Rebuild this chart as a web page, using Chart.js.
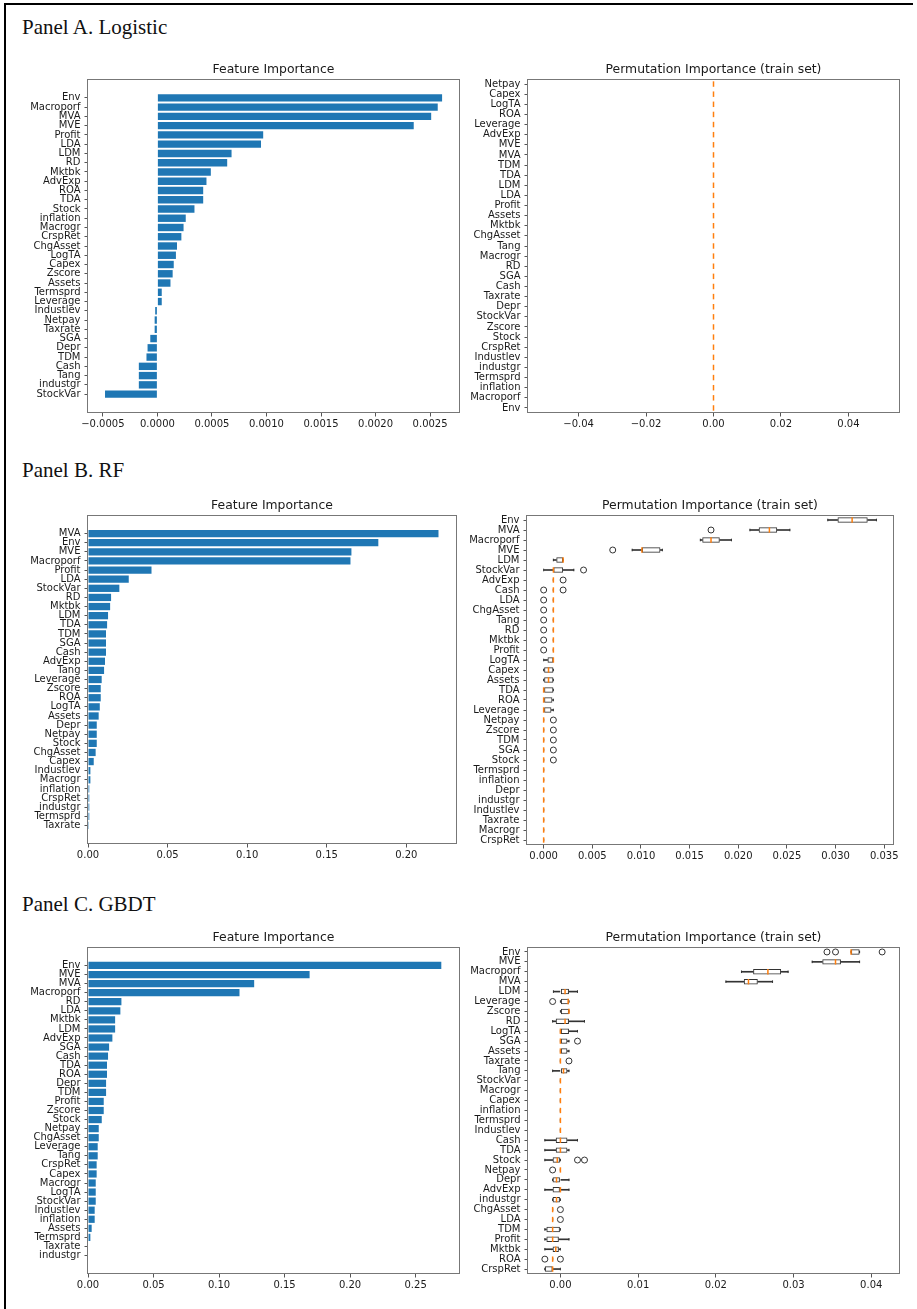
<!DOCTYPE html>
<html>
<head>
<meta charset="utf-8">
<script src="https://cdn.jsdelivr.net/npm/chart.js@4.4.1/dist/chart.umd.min.js"></script>
<style>
  html, body { margin: 0; padding: 0; background: #fff; }
  #page { position: relative; width: 917px; height: 1309px; overflow: hidden; }
  .rule { position: absolute; background: #000; }
  .caption { position: absolute; left: 22px; font-family: 'Liberation Serif', serif; font-size: 21px; line-height: 21px; color: #111; white-space: nowrap; }
  canvas { position: absolute; }
</style>
</head>
<body>
<div id="page">
  <div class="rule" style="left:4px;top:3px;width:909px;height:2px"></div>
  <div class="rule" style="left:4px;top:3px;width:2px;height:1306px"></div>
  <div class="caption" style="top:17px">Panel A. Logistic</div>
  <div class="caption" style="top:460px">Panel B. RF</div>
  <div class="caption" style="top:894px">Panel C. GBDT</div>
  <canvas id="aFi"></canvas>
  <canvas id="aPi"></canvas>
  <canvas id="bFi"></canvas>
  <canvas id="bPi"></canvas>
  <canvas id="cFi"></canvas>
  <canvas id="cPi"></canvas>
</div>
<script>
// --- Panel A. Logistic ---
const aFiLabels = ['Env','Macroporf','MVA','MVE','Profit','LDA','LDM','RD','Mktbk','AdvExp','ROA','TDA','Stock','inflation','Macrogr','CrspRet','ChgAsset','LogTA','Capex','Zscore','Assets','Termsprd','Leverage','Industlev','Netpay','Taxrate','SGA','Depr','TDM','Cash','Tang','industgr','StockVar'];
const aFiValues = [0.00261,0.00257,0.00251,0.00235,0.00097,0.00095,0.00068,0.00064,0.00049,0.00045,0.00042,0.00042,0.00034,0.00026,0.00024,0.00022,0.00018,0.00017,0.00015,0.00014,0.00012,0.00004,0.00004,-0.00002,-0.000025,-0.000025,-0.000065,-0.00009,-0.0001,-0.00017,-0.00017,-0.00017,-0.00048];
const aFiTicks = [-0.0005, 0, 0.0005, 0.001, 0.0015, 0.002, 0.0025];

const aPiLabels = ['Netpay','Capex','LogTA','ROA','Leverage','AdvExp','MVE','MVA','TDM','TDA','LDM','LDA','Profit','Assets','Mktbk','ChgAsset','Tang','Macrogr','RD','SGA','Cash','Taxrate','Depr','StockVar','Zscore','Stock','CrspRet','Industlev','industgr','Termsprd','inflation','Macroporf','Env'];
// every repeat gave 0, so quartiles, whiskers and median all sit at 0
const aPiValues = [0,0,0,0,0,0,0,0,0,0,0,0,0,0,0,0,0,0,0,0,0,0,0,0,0,0,0,0,0,0,0,0,0];
const aPiTicks = [-0.04, -0.02, 0, 0.02, 0.04];

// --- Panel B. RF ---
const bFiLabels = ['MVA','Env','MVE','Macroporf','Profit','LDA','StockVar','RD','Mktbk','LDM','TDA','TDM','SGA','Cash','AdvExp','Tang','Leverage','Zscore','ROA','LogTA','Assets','Depr','Netpay','Stock','ChgAsset','Capex','Industlev','Macrogr','inflation','CrspRet','industgr','Termsprd','Taxrate'];
const bFiValues = [0.2202,0.1824,0.1655,0.1649,0.0399,0.0256,0.0197,0.0145,0.0139,0.0126,0.0120,0.0113,0.0113,0.0113,0.0107,0.0101,0.0086,0.0080,0.0080,0.0074,0.0067,0.0055,0.0055,0.0055,0.0048,0.0036,0.0015,0.0015,0.0008,0.0008,0.0008,0.0008,0.0001];
const bFiTicks = [0, 0.05, 0.10, 0.15, 0.20];

const bPiLabels = ['Env','MVA','Macroporf','MVE','LDM','StockVar','AdvExp','Cash','LDA','ChgAsset','Tang','RD','Mktbk','Profit','LogTA','Capex','Assets','TDA','ROA','Leverage','Netpay','Zscore','TDM','SGA','Stock','Termsprd','inflation','Depr','industgr','Industlev','Taxrate','Macrogr','CrspRet'];
const bPiQ1  = [0.0302,0.0221,0.0163,0.0101,0.0013,0.0010,0.0010,0.0010,0.0010,0.0010,0.0010,0.0010,0.0010,0.0010,0.0004,0,0,0,0,0,0,0,0,0,0,0,0,0,0,0,0,0,0];
const bPiMed = [0.0317,0.0232,0.0172,0.0101,0.0020,0.0010,0.0010,0.0010,0.0010,0.0010,0.0010,0.0010,0.0010,0.0010,0.0010,0.0005,0.0005,0,0,0,0,0,0,0,0,0,0,0,0,0,0,0,0];
const bPiQ3  = [0.0333,0.0240,0.0181,0.0120,0.0020,0.0020,0.0010,0.0010,0.0010,0.0010,0.0010,0.0010,0.0010,0.0010,0.0010,0.0010,0.0010,0.0010,0.0009,0.0008,0,0,0,0,0,0,0,0,0,0,0,0,0];
const bPiLo  = [0.0292,0.0212,0.0161,0.0091,0.0010,0,0.0010,0.0010,0.0010,0.0010,0.0010,0.0010,0.0010,0.0010,0,0,0,0,0,0,0,0,0,0,0,0,0,0,0,0,0,0,0];
const bPiHi  = [0.0342,0.0253,0.0193,0.0122,0.0020,0.0031,0.0010,0.0010,0.0010,0.0010,0.0010,0.0010,0.0010,0.0010,0.0010,0.0010,0.0010,0.0010,0.0010,0.0010,0,0,0,0,0,0,0,0,0,0,0,0,0];
const bFlierLabels = ['MVA','MVE','StockVar','AdvExp','Cash','Cash','LDA','ChgAsset','Tang','RD','Mktbk','Profit','Netpay','Zscore','TDM','SGA','Stock'];
const bFlierValues = [0.0172,0.0071,0.0041,0.0020,0,0.0020,0,0,0,0,0,0,0.0010,0.0010,0.0010,0.0010,0.0010];
const bPiTicks = [0, 0.005, 0.010, 0.015, 0.020, 0.025, 0.030, 0.035];

// --- Panel C. GBDT ---
const cFiLabels = ['Env','MVE','MVA','Macroporf','RD','LDA','Mktbk','LDM','AdvExp','SGA','Cash','TDA','ROA','Depr','TDM','Profit','Zscore','Stock','Netpay','ChgAsset','Leverage','Tang','CrspRet','Capex','Macrogr','LogTA','StockVar','Industlev','inflation','Assets','Termsprd','Taxrate','industgr'];
const cFiValues = [0.2696,0.1691,0.1268,0.1156,0.0255,0.0247,0.0207,0.0207,0.0186,0.0161,0.0153,0.0145,0.0145,0.0138,0.0138,0.0120,0.0120,0.0105,0.0082,0.0082,0.0074,0.0074,0.0066,0.0066,0.0059,0.0059,0.0059,0.0051,0.0051,0.0028,0.0018,0,0];
const cFiTicks = [0, 0.05, 0.10, 0.15, 0.20, 0.25];

const cPiLabels = ['Env','MVE','Macroporf','MVA','LDM','Leverage','Zscore','RD','LogTA','SGA','Assets','Taxrate','Tang','StockVar','Macrogr','Capex','inflation','Termsprd','Industlev','Cash','TDA','Stock','Netpay','Depr','AdvExp','industgr','ChgAsset','LDA','TDM','Profit','Mktbk','ROA','CrspRet'];
const cPiQ1  = [0.0374,0.0337,0.0248,0.0236,0,0,0,-0.0006,0,0,0,0,0,0,0,0,0,0,0,-0.0006,-0.0006,-0.0010,0,-0.0010,-0.0010,-0.0010,-0.0010,-0.0010,-0.0018,-0.0018,-0.0010,-0.0010,-0.0020];
const cPiMed = [0.0374,0.0354,0.0267,0.0242,0.0006,0.0010,0.0011,0.0006,0,0,0,0,0.0004,0,0,0,0,0,0,0,0,-0.0004,0,-0.0005,0,-0.0005,-0.0010,-0.0010,-0.0010,-0.0010,-0.0006,-0.0010,-0.0010];
const cPiQ3  = [0.0385,0.0361,0.0284,0.0254,0.0011,0.0011,0.0011,0.0011,0.0011,0.0009,0.0009,0,0.0009,0,0,0,0,0,0,0.0009,0.0009,0,0,0,0,0,-0.0010,-0.0010,0,-0.0002,-0.0002,-0.0010,-0.0010];
const cPiLo  = [0.0374,0.0324,0.0233,0.0213,-0.0009,0,0,-0.0010,0,0,0,0,-0.0010,0,0,0,0,0,0,-0.0020,-0.0020,-0.0020,0,-0.0010,-0.0020,-0.0010,-0.0010,-0.0010,-0.0020,-0.0020,-0.0020,-0.0010,-0.0020];
const cPiHi  = [0.0385,0.0385,0.0293,0.0273,0.0022,0.0011,0.0011,0.0031,0.0022,0.0011,0.0011,0,0.0011,0,0,0,0,0,0,0.0022,0.0011,0,0,0.0011,0.0011,0,-0.0010,-0.0010,0,0.0011,0,-0.0010,0];
const cFlierLabels = ['Env','Env','Env','Leverage','SGA','Taxrate','Stock','Stock','Netpay','ChgAsset','LDA','ROA','ROA'];
const cFlierValues = [0.0343,0.0354,0.0414,-0.0010,0.0022,0.0011,0.0022,0.0031,-0.0010,0,0,-0.0020,0];
const cPiTicks = [0, 0.01, 0.02, 0.03, 0.04];

// --- styling / layout ---
const BLUE = '#1f77b4', ORANGE = '#ff7f0e', INK = '#333';
const TITLE_H = 16, XH = 24, PAD_R = 16;

Chart.defaults.font.family = "'DejaVu Sans', sans-serif";
Chart.defaults.font.size = 10;
Chart.defaults.color = '#1a1a1a';

// matplotlib-like box around the axes
const frame = {
  id: 'frame',
  afterDraw(chart) {
    const a = chart.chartArea, ctx = chart.ctx;
    ctx.save();
    ctx.strokeStyle = '#777';
    ctx.lineWidth = 1;
    ctx.strokeRect(Math.round(a.left) - 0.5, Math.round(a.top) + 0.5,
                   Math.round(a.right - a.left) + 1, Math.round(a.bottom - a.top) - 1);
    ctx.restore();
  }
};

const place = (canvas, box, yw) => {
  canvas.width = yw + (box.r - box.l) + PAD_R;
  canvas.height = TITLE_H + (box.b - box.t) + XH;
  canvas.style.left = (box.l - yw) + 'px';
  canvas.style.top = (box.t - TITLE_H) + 'px';
};

const axisGrid = { drawOnChartArea: false, drawTicks: true, tickLength: 3.5, color: '#555', offset: false };

const buildScales = (xr, xTicks, dec, labels, yr, yw) => ({
  x: {
    type: 'linear', min: xr[0], max: xr[1], bounds: 'data', offset: false,
    afterBuildTicks: s => { s.ticks = xTicks.map(v => ({ value: v })); },
    afterFit: s => { s.height = XH; s.paddingLeft = 0; s.paddingRight = 0; },
    ticks: { autoSkip: false, maxRotation: 0, padding: 2,
             callback: v => v.toFixed(dec).replace('-', '\u2212') },
    grid: axisGrid,
    border: { display: false }
  },
  y: {
    type: 'linear', reverse: true, min: yr[0], max: yr[1], bounds: 'data', offset: false,
    afterBuildTicks: s => { s.ticks = labels.map((_, i) => ({ value: i })); },
    afterFit: s => { s.width = yw; s.paddingTop = 0; s.paddingBottom = 0; },
    ticks: { autoSkip: false, padding: 4, callback: v => labels[v] },
    grid: axisGrid,
    border: { display: false }
  }
});

const makeChart = (id, box, yw, title, datasets, xr, xTicks, dec, labels, yr) => {
  const canvas = document.getElementById(id);
  place(canvas, box, yw);
  return new Chart(canvas, {
    type: 'bar',
    data: { datasets },
    options: {
      responsive: false,
      animation: false,
      events: [],
      indexAxis: 'y',
      layout: { padding: { left: 0, right: PAD_R, top: 0, bottom: 0 } },
      plugins: {
        legend: { display: false },
        tooltip: { enabled: false },
        title: { display: true, text: title, fullSize: false, color: '#1a1a1a',
                 font: { size: 12.4, weight: 'normal', lineHeight: '14.4px' },
                 padding: { top: 0, bottom: 1.6 } }
      },
      scales: buildScales(xr, xTicks, dec, labels, yr, yw)
    },
    plugins: [frame]
  });
};

// horizontal bars for "Feature Importance"
const barSet = values => [{
  type: 'bar',
  data: values.map((v, i) => ({ x: v, y: i })),
  backgroundColor: BLUE,
  borderWidth: 0,
  categoryPercentage: 0.8,
  barPercentage: 1
}];

// box plot pieces for "Permutation Importance"
const boxSet = (labels, q1, med, q3, lo, hi, flierLabels, flierValues) => {
  const rows = arr => arr.map((v, i) => ({ x: v, y: i }));
  const span = (a, b) => a.map((v, i) => ({ x: [v, b[i]], y: i }));
  const unit = f => ctx => {
    const y = ctx.chart.scales.y;
    return Math.abs(y.getPixelForValue(f) - y.getPixelForValue(0));
  };
  return [
    { type: 'scatter', order: 1,
      data: flierValues.map((v, i) => ({ x: v, y: labels.indexOf(flierLabels[i]) })),
      pointRadius: 3, pointBorderWidth: 1, pointBorderColor: INK, pointBackgroundColor: 'rgba(0,0,0,0)' },
    { type: 'scatter', order: 2, data: rows(med),
      pointStyle: 'line', pointRotation: 90, pointRadius: unit(0.27),
      pointBorderColor: ORANGE, pointBorderWidth: 1.5 },
    { type: 'scatter', order: 3, data: rows(lo).concat(rows(hi)),
      pointStyle: 'line', pointRotation: 90, pointRadius: unit(0.13),
      pointBorderColor: INK, pointBorderWidth: 1 },
    { type: 'bar', order: 4, data: span(q1, q3), grouped: false,
      categoryPercentage: 0.55, barPercentage: 1,
      backgroundColor: 'rgba(0,0,0,0)', borderColor: INK, borderWidth: 1, borderSkipped: false },
    { type: 'bar', order: 5, data: span(lo, q1), grouped: false,
      barThickness: 1, backgroundColor: INK, borderWidth: 0 },
    { type: 'bar', order: 5, data: span(q3, hi), grouped: false,
      barThickness: 1, backgroundColor: INK, borderWidth: 0 }
  ];
};

const FI_Y = [-2.04, 34.04];
const PI_Y = [-0.5, 32.5];

makeChart('aFi', { l: 88, t: 79, r: 459, b: 413 }, 84, 'Feature Importance',
  barSet(aFiValues), [-0.000636, 0.002765], aFiTicks, 4, aFiLabels, FI_Y);
makeChart('aPi', { l: 528, t: 79, r: 899, b: 413 }, 68, 'Permutation Importance (train set)',
  boxSet(aPiLabels, aPiValues, aPiValues, aPiValues, aPiValues, aPiValues, [], []),
  [-0.055, 0.055], aPiTicks, 2, aPiLabels, PI_Y);

makeChart('bFi', { l: 88, t: 515, r: 456, b: 844 }, 84, 'Feature Importance',
  barSet(bFiValues), [0, 0.2312], bFiTicks, 2, bFiLabels, FI_Y);
makeChart('bPi', { l: 527, t: 515, r: 893, b: 845 }, 68, 'Permutation Importance (train set)',
  boxSet(bPiLabels, bPiQ1, bPiMed, bPiQ3, bPiLo, bPiHi, bFlierLabels, bFlierValues),
  [-0.00171, 0.0359], bPiTicks, 3, bPiLabels, PI_Y);

makeChart('cFi', { l: 88, t: 947, r: 459, b: 1274 }, 84, 'Feature Importance',
  barSet(cFiValues), [0, 0.2831], cFiTicks, 2, cFiLabels, FI_Y);
makeChart('cPi', { l: 528, t: 947, r: 899, b: 1274 }, 68, 'Permutation Importance (train set)',
  boxSet(cPiLabels, cPiQ1, cPiMed, cPiQ3, cPiLo, cPiHi, cFlierLabels, cFlierValues),
  [-0.00417, 0.04357], cPiTicks, 2, cPiLabels, PI_Y);
</script>
</body>
</html>
